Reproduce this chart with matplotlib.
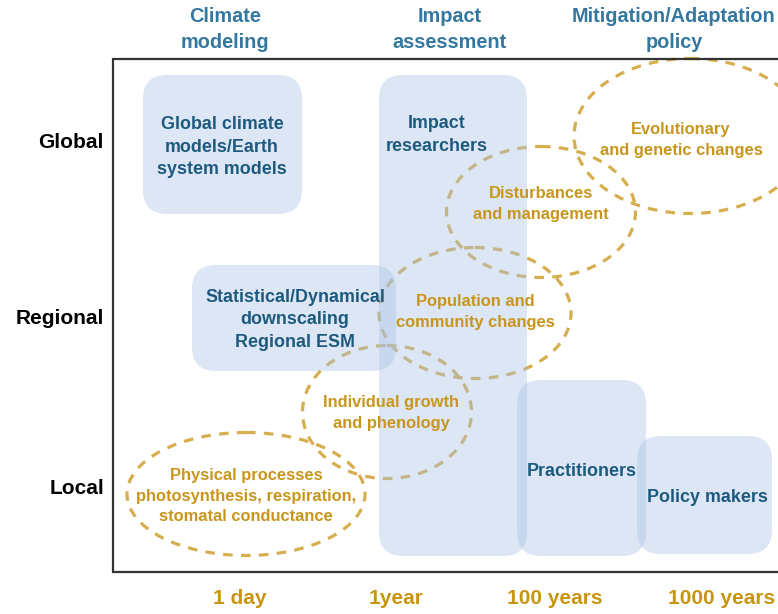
import matplotlib
matplotlib.use("Agg")
import matplotlib.pyplot as plt
from matplotlib.patches import FancyBboxPatch, Ellipse

# actor boxes: label, (left, top, right, bottom) in pixels, text position
box_labels = ["Global climate\nmodels/Earth\nsystem models", "Impact\nresearchers",
              "Statistical/Dynamical\ndownscaling\nRegional ESM", "Practitioners",
              "Policy makers"]
box_extent = [(143, 75, 302, 214), (379, 75, 527, 556), (192, 265, 396, 371),
              (517, 380, 646, 556), (637, 436, 772, 554)]
box_text_xy = [(222, 147), (437, 135), (295, 320), (582, 472), (707, 498)]

# ecological processes: label, centre, width, height
proc_labels = ["Evolutionary\nand genetic changes", "Disturbances\nand management",
               "Population and\ncommunity changes", "Individual growth\nand phenology",
               "Physical processes\nphotosynthesis, respiration,\nstomatal conductance"]
proc_centre = [(690, 136), (541, 212), (475, 313), (387, 412), (246, 494)]
proc_size = [(232, 155), (189, 131), (192, 131), (169, 133), (238, 123)]
proc_text_xy = [(681, 140), (541, 204), (475, 312), (391, 413), (246, 496)]

headers = ["Climate\nmodeling", "Impact\nassessment", "Mitigation/Adaptation\npolicy"]
header_x = [225, 450, 674]
scales = ["Global", "Regional", "Local"]
scale_y = [143, 318, 488]
times = ["1 day", "1year", "100 years", "1000 years"]
time_x = [240, 396, 555, 722]

W, H = 778, 614
fig = plt.figure(figsize=(W / 100, H / 100), dpi=100)
ax = fig.add_axes([0, 0, 1, 1])
ax.set_xlim(0, W)
ax.set_ylim(H, 0)
ax.axis("off")
plt.rcParams["font.family"] = ["Liberation Sans", "DejaVu Sans"]

gold_line = "#d6ae4e"
gold_text = "#c8961c"
blue_head = "#3478a0"
blue_text = "#1d5a7e"

# frame (open on the right)
ax.plot([W + 5, 113, 113, W + 5], [59, 59, 572, 572], color="#333333", lw=1.6,
        solid_joinstyle="miter", zorder=5)

for (cx, cy), (w, h), lab, (tx, ty) in zip(proc_centre, proc_size, proc_labels, proc_text_xy):
    ax.add_patch(Ellipse((cx, cy), w, h, fill=False, ec=gold_line, lw=2.3,
                         linestyle=(0, (3.0, 2.6)), zorder=1))
    ax.text(tx, ty, lab, ha="center", va="center", color=gold_text, fontsize=11.9,
            fontweight="bold", linespacing=1.42, zorder=3)

for (l, t, r, b), lab, (tx, ty) in zip(box_extent, box_labels, box_text_xy):
    ax.add_patch(FancyBboxPatch((l, t), r - l, b - t,
                                boxstyle="round,pad=0,rounding_size=24",
                                fc="#a8c1e4", ec="none", alpha=0.4, zorder=2))
    ax.text(tx, ty, lab, ha="center", va="center", color=blue_text, fontsize=12.9,
            fontweight="bold", linespacing=1.42, zorder=3)

for x, lab in zip(header_x, headers):
    ax.text(x, 29.5, lab, ha="center", va="center", color=blue_head, fontsize=14.3,
            fontweight="bold", linespacing=1.48)

for y, lab in zip(scale_y, scales):
    ax.text(104, y, lab, ha="right", va="center", color="black", fontsize=15,
            fontweight="bold")

for x, lab in zip(time_x, times):
    ax.text(x, 599, lab, ha="center", va="center", color="#c8950e", fontsize=15,
            fontweight="bold")

fig.savefig("out.png", dpi=100)
